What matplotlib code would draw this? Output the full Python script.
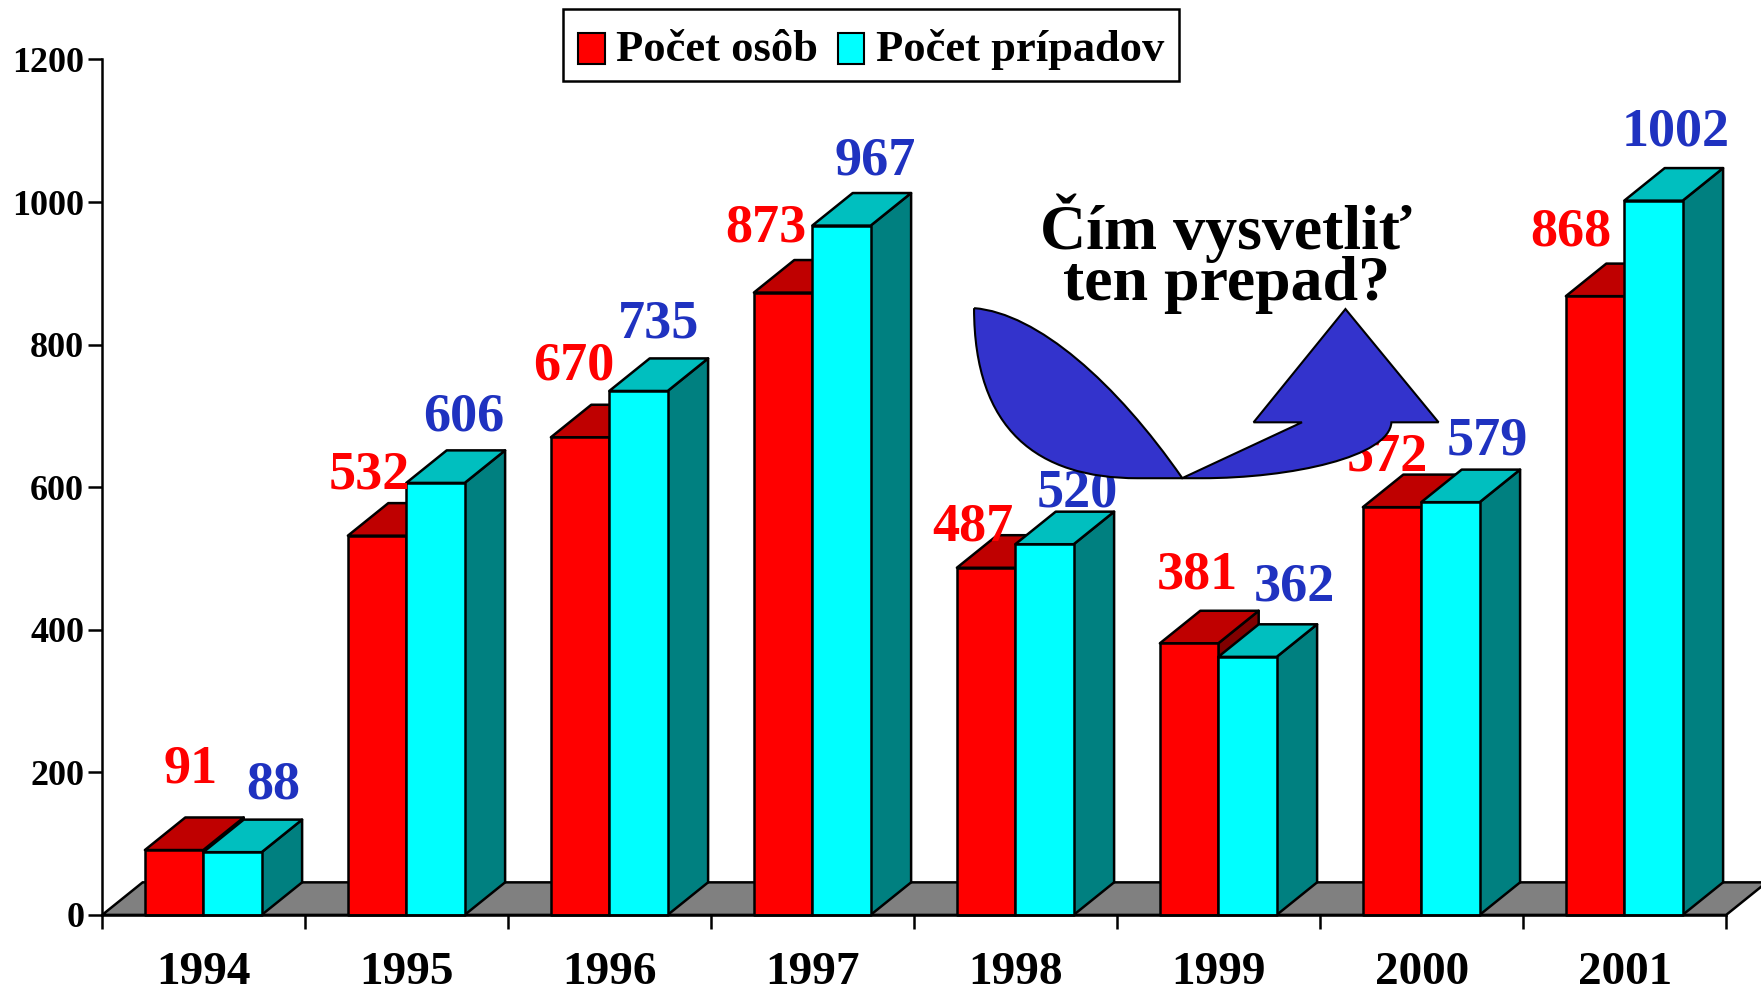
import matplotlib
matplotlib.use('Agg')
import matplotlib.pyplot as plt
from matplotlib.patches import Polygon, Patch, PathPatch
from matplotlib.path import Path

years = ['1994', '1995', '1996', '1997', '1998', '1999', '2000', '2001']
osob = [91, 532, 670, 873, 487, 381, 572, 868]
pripadov = [88, 606, 735, 967, 520, 362, 579, 1002]
yticks = [0, 200, 400, 600, 800, 1000, 1200]

# label offsets from the bar top, in reference pixels
osob_off = [(15, 72), (-7, 54), (-6, 63), (-15, 57), (-12, 36), (7, 60), (-4, 44), (-22, 57)]
prip_off = [(36, 59), (25, 58), (18, 59), (30, 57), (29, 45), (42, 62), (33, 54), (20, 61)]

W = 1568.0
H = 881.0
SCALE = 1761.0 / W
SERIF = 'Liberation Serif'

BAR_W = 52 / 180.75
BAR_START = 38 / 180.75
DX = 36 / 180.75
DY = 29 / 0.635
LW = 1.8

fig = plt.figure(figsize=(17.61, 9.89), dpi=100)
ax = fig.add_axes([91 / W, (H - 815) / H, (1537 - 91) / W, (815 - 53) / H])
ax.set_xlim(0, 8)
ax.set_ylim(0, 1200)


def box(x, v, front, top, side, z):
  # side and top first, the front face goes over them
  ax.add_patch(Polygon([(x + BAR_W, 0), (x + BAR_W + DX, DY), (x + BAR_W + DX, v + DY), (x + BAR_W, v)],
                       fc=side, ec='k', lw=LW, zorder=z, clip_on=False, joinstyle='round'))
  ax.add_patch(Polygon([(x, v), (x + DX, v + DY), (x + BAR_W + DX, v + DY), (x + BAR_W, v)],
                       fc=top, ec='k', lw=LW, zorder=z, clip_on=False, joinstyle='round'))
  ax.add_patch(Polygon([(x, 0), (x, v), (x + BAR_W, v), (x + BAR_W, 0)],
                       fc=front, ec='k', lw=LW, zorder=z, clip_on=False, joinstyle='round'))


# floor
ax.add_patch(Polygon([(0, 0), (DX, DY), (8 + DX, DY), (8, 0)], fc='#808080', ec='k', lw=LW, zorder=1, clip_on=False))

for i in range(len(years)):
  x = i + BAR_START
  box(x, osob[i], '#ff0000', '#bf0000', '#800000', 2 + i * 0.1)
  box(x + BAR_W, pripadov[i], '#00ffff', '#00bfbf', '#008080', 2.05 + i * 0.1)
  ax.annotate(str(osob[i]), (x + BAR_W / 2, osob[i]),
              xytext=(osob_off[i][0] * SCALE, osob_off[i][1] * SCALE), textcoords='offset pixels',
              ha='center', va='center', color='#ff0000', fontsize=39, family=SERIF, weight='bold', zorder=4)
  ax.annotate(str(pripadov[i]), (x + BAR_W * 1.5, pripadov[i]),
              xytext=(prip_off[i][0] * SCALE, prip_off[i][1] * SCALE), textcoords='offset pixels',
              ha='center', va='center', color='#1f32c0', fontsize=39, family=SERIF, weight='bold', zorder=4)

for s in ['top', 'right']:
  ax.spines[s].set_visible(False)
for s in ['left', 'bottom']:
  ax.spines[s].set_linewidth(LW)
  ax.spines[s].set_zorder(3)

ax.set_yticks(yticks)
ax.set_yticklabels([str(v) for v in yticks], family=SERIF, weight='bold', fontsize=26)
ax.set_xticks(range(9))
ax.set_xticklabels([])
ax.set_xticks([i + 0.5 for i in range(8)], minor=True)
ax.set_xticklabels(years, minor=True, family=SERIF, weight='bold', fontsize=34)
ax.tick_params(axis='x', which='major', length=10, width=LW)
ax.tick_params(axis='x', which='minor', length=0, pad=27)
ax.tick_params(axis='y', length=10, width=LW, pad=3)

# legend
handles = [Patch(fc='#ff0000', ec='k', lw=1.5), Patch(fc='#00ffff', ec='k', lw=1.5)]
leg = fig.legend(handles, ['Počet osôb', 'Počet prípadov'], ncol=2,
                 loc='center', bbox_to_anchor=(775.5 / W, 1 - 40 / H),
                 prop={'family': SERIF, 'weight': 'bold', 'size': 32},
                 fancybox=False, edgecolor='k', framealpha=1, handlelength=0.6, handleheight=0.7,
                 handletextpad=0.25, columnspacing=0.45, borderpad=0.34, borderaxespad=0)
leg.get_frame().set_linewidth(LW)
# contents sit a little high in the box, push them down
for t in leg.get_texts():
  t.set_y(-5)
for p in leg.get_patches():
  p.set_y(p.get_y() - 5.4)

# curved arrow callout
tr = matplotlib.transforms.Affine2D().scale(1 / W, -1 / H).translate(0, 1) + fig.transFigure
verts = [(867.3, 274.5), (923.8, 279), (993.8, 341), (1052.7, 425.9),
         (1159.3, 376.2), (1116.2, 376.2), (1198, 275.3), (1280.9, 376.2), (1238.9, 376.2),
         (1237.2, 406.8), (1149.8, 426), (1069.8, 426), (1012.9, 426),
         (923.8, 426), (867.3, 383), (867.3, 274.5)]
codes = [Path.MOVETO, Path.CURVE4, Path.CURVE4, Path.CURVE4,
         Path.LINETO, Path.LINETO, Path.LINETO, Path.LINETO, Path.LINETO,
         Path.CURVE4, Path.CURVE4, Path.CURVE4, Path.LINETO,
         Path.CURVE4, Path.CURVE4, Path.CURVE4]
fig.add_artist(PathPatch(Path(verts, codes), fc='#3333cc', ec='k', lw=1.5, transform=tr, zorder=5))

fig.text(1092 / W, 1 - 226 / H, 'Čím vysvetliť\nten prepad?', ha='center', va='center', ma='center',
         family=SERIF, weight='bold', fontsize=46, linespacing=0.86)

fig.savefig('out.png', dpi=100)
